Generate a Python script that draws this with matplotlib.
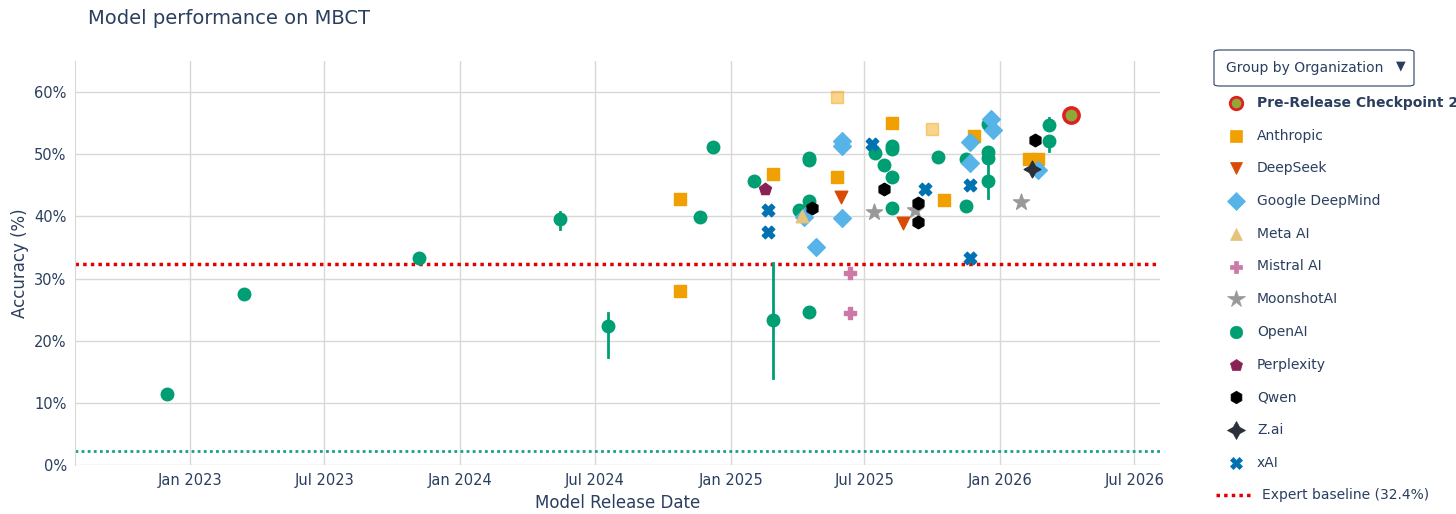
import numpy as np
import pandas as pd
import matplotlib
matplotlib.use("Agg")
from matplotlib import pyplot as plt
import matplotlib.dates as mdates

plt.rcParams['font.family'] = ['DejaVu Sans']

# (org, date, accuracy %, err_low, err_high)
openai_dates = ['2022-12-01', '2023-03-14', '2023-11-07', '2024-05-15', '2024-07-19', '2024-11-21',
                '2024-12-08', '2025-02-02', '2025-02-28', '2025-04-04', '2025-04-17', '2025-04-17',
                '2025-04-17', '2025-04-17', '2025-07-15', '2025-07-27', '2025-08-08', '2025-08-08',
                '2025-08-08', '2025-08-08', '2025-10-09', '2025-11-16', '2025-11-16', '2025-12-15',
                '2025-12-15', '2025-12-15', '2025-12-15', '2026-03-08', '2026-03-08']
openai_acc = [11.5, 27.5, 33.3, 39.5, 22.3, 39.9, 51.1, 45.7, 23.3, 41.0, 49.0, 49.4, 42.4, 24.6,
              50.2, 48.2, 46.3, 51.4, 50.8, 41.3, 49.5, 49.2, 41.6, 50.3, 49.4, 45.7, 54.8, 54.7, 52.1]
openai_lo = [0, 0, 0, 1.5, 5.0, 0, 0, 0, 9.3, 0, 0, 0, 0, 0.6, 0, 0, 0, 0, 0, 0, 0, 0, 0.6, 0, 0, 2.7, 0, 0, 1.5]
openai_hi = [0, 0, 0, 1.2, 2.2, 0, 0, 0, 9.2, 0, 1.2, 0, 0, 0.6, 1.8, 0, 0, 0, 0, 0, 0, 0, 0, 0, 0, 3.5, 0, 1.2, 0]

anth_dates = ['2024-10-25', '2024-10-25', '2025-02-27', '2025-05-25', '2025-05-25', '2025-08-07',
              '2025-10-01', '2025-10-17', '2025-11-27', '2026-02-09', '2026-02-21']
anth_acc = [42.8, 28.0, 46.8, 59.2, 46.3, 55.0, 54.0, 42.6, 52.9, 49.2, 49.2]
anth_light = [False, False, False, True, False, False, True, False, False, False, False]

deepseek_dates = ['2025-05-30', '2025-08-22']
deepseek_acc = [43.1, 38.9]
gdm_dates = ['2025-04-10', '2025-04-27', '2025-06-01', '2025-06-01', '2025-06-01', '2025-11-21',
             '2025-11-21', '2025-12-19', '2025-12-22', '2026-02-21']
gdm_acc = [39.9, 35.0, 52.1, 51.3, 39.7, 51.9, 48.6, 55.6, 53.9, 47.4]
meta_dates = ['2025-04-07']
meta_acc = [40.0]
mistral_dates = ['2025-06-12', '2025-06-12']
mistral_acc = [30.9, 24.4]
moonshot_dates = ['2025-07-14', '2025-09-07', '2026-01-29']
moonshot_acc = [40.7, 41.0, 42.3]
perplexity_dates = ['2025-02-16']
perplexity_acc = [44.4]
qwen_dates = ['2025-04-21', '2025-07-27', '2025-09-12', '2025-09-12', '2026-02-17']
qwen_acc = [41.3, 44.4, 42.1, 39.1, 52.3]
zai_dates = ['2026-02-13']
zai_acc = [47.7]
xai_dates = ['2025-02-20', '2025-02-20', '2025-07-12', '2025-09-21', '2025-11-21', '2025-11-21']
xai_acc = [41.0, 37.5, 51.6, 44.4, 45.0, 33.3]
prerelease_date = ['2026-04-06']
prerelease_acc = [56.3]

expert_baseline = 32.4
lower_baseline = 2.3

fig = plt.figure(figsize=(14.56, 5.14), dpi=100)
ax = fig.add_axes([75 / 1456, 49 / 514, 1085 / 1456, 404 / 514])
d = lambda s: pd.to_datetime(s)

# error bars
for x, y, lo, hi in zip(openai_dates, openai_acc, openai_lo, openai_hi):
    if lo or hi:
        ax.plot([d(x), d(x)], [y - lo, y + hi], color='#009e73', lw=2, zorder=2)

ms = 9
ax.scatter(d(openai_dates), openai_acc, s=ms**2, color='#009e73', marker='o', zorder=3)
for x, y, light in zip(anth_dates, anth_acc, anth_light):
    ax.scatter(d([x]), [y], s=ms**2, color='#f0a000', marker='s', alpha=0.45 if light else 1, zorder=3)
ax.scatter(d(deepseek_dates), deepseek_acc, s=ms**2, color='#d84a05', marker='v', zorder=3)
ax.scatter(d(gdm_dates), gdm_acc, s=ms**2, color='#56b4e9', marker='D', zorder=3)
ax.scatter(d(meta_dates), meta_acc, s=ms**2, color='#e5c37a', marker='^', zorder=3)
ax.scatter(d(mistral_dates), mistral_acc, s=ms**2, color='#cc79a7', marker='P', zorder=3)
ax.scatter(d(moonshot_dates), moonshot_acc, s=(ms + 3)**2, color='#999999', marker='*', zorder=3)
ax.scatter(d(perplexity_dates), perplexity_acc, s=ms**2, color='#882255', marker='p', zorder=3)
ax.scatter(d(qwen_dates), qwen_acc, s=ms**2, color='#000000', marker='h', zorder=3)
ax.scatter(d(zai_dates), zai_acc, s=(ms + 3)**2, color='#2a2f3a', marker=(4, 1, 0), zorder=3)
ax.scatter(d(xai_dates), xai_acc, s=ms**2, color='#0072b2', marker='X', zorder=3)
ax.scatter(d(prerelease_date), prerelease_acc, s=11**2, color='#8fa83a', edgecolor='#e02020',
           linewidth=2.5, marker='o', zorder=4)

ax.axhline(expert_baseline, color='#e00000', ls=(0, (1, 1.2)), lw=2.5, zorder=1)
ax.axhline(lower_baseline, color='#14a08a', ls=(0, (1, 1.2)), lw=2, zorder=1)

ax.set_xlim(d('2022-07-29'), d('2026-08-05'))
ax.set_ylim(0, 65)
ax.set_yticks(range(0, 61, 10))
ax.set_yticklabels([f'{v}%' for v in range(0, 61, 10)])
ticks = ['2023-01-01', '2023-07-01', '2024-01-01', '2024-07-01', '2025-01-01', '2025-07-01',
         '2026-01-01', '2026-07-01']
ax.set_xticks(d(ticks))
ax.xaxis.set_major_formatter(mdates.DateFormatter('%b %Y'))
ax.grid(True, color='#d8d8d8', lw=1)
ax.set_axisbelow(True)
for s in ['top', 'right', 'bottom']:
    ax.spines[s].set_visible(False)
ax.spines['left'].set_color('#d8d8d8')
ax.tick_params(length=0, labelsize=10.5, colors='#2a3f5f', pad=6)
ax.set_xlabel('Model Release Date', fontsize=12, color='#2a3f5f', labelpad=4)
ax.set_ylabel('Accuracy (%)', fontsize=12, color='#2a3f5f')
fig.text(88 / 1456, 1 - 18 / 514, 'Model performance on MBCT', fontsize=14, color='#2a3f5f', va='center')

# dropdown box
fig.patches.append(matplotlib.patches.FancyBboxPatch((1214 / 1456, 1 - 86 / 514), 200 / 1456, 36 / 514,
                   boxstyle='round,pad=0,rounding_size=0.004', transform=fig.transFigure,
                   facecolor='white', edgecolor='#2a3f5f', lw=0.8))
fig.text(1226 / 1456, 1 - 68 / 514, 'Group by Organization', fontsize=10, color='#2a3f5f', va='center')
fig.text(1401 / 1456, 1 - 66 / 514, '▼', fontsize=9, color='#2a3f5f', va='center', ha='center')

# legend
legend_items = [
    ('Pre-Release Checkpoint 2', 'o', '#8fa83a', '#e02020'),
    ('Anthropic', 's', '#f0a000', None),
    ('DeepSeek', 'v', '#d84a05', None),
    ('Google DeepMind', 'D', '#56b4e9', None),
    ('Meta AI', '^', '#e5c37a', None),
    ('Mistral AI', 'P', '#cc79a7', None),
    ('MoonshotAI', '*', '#999999', None),
    ('OpenAI', 'o', '#009e73', None),
    ('Perplexity', 'p', '#882255', None),
    ('Qwen', 'h', '#000000', None),
    ('Z.ai', (4, 1, 0), '#2a2f3a', None),
    ('xAI', 'X', '#0072b2', None),
]
y0 = 1 - 103 / 514
step = 32.7 / 514
for i, (name, mk, col, ec) in enumerate(legend_items):
    y = y0 - i * step
    size = 13 if mk in ('*', (4, 1, 0)) else 9
    fig.lines.append(plt.Line2D([1236 / 1456], [y], marker=mk, color=col, markersize=size, ls='none',
                                markeredgecolor=ec if ec else col, markeredgewidth=2 if ec else 0.5,
                                transform=fig.transFigure))
    fig.text(1257 / 1456, y, name, fontsize=10, color='#2a3f5f', va='center',
             fontweight='bold' if i == 0 else 'normal')
y = y0 - 12 * step
fig.lines.append(plt.Line2D([1216 / 1456, 1254 / 1456], [y, y], color='#e00000', lw=2.5, ls=(0, (1, 1.2)),
                            transform=fig.transFigure))
fig.text(1262 / 1456, y, 'Expert baseline (32.4%)', fontsize=10, color='#2a3f5f', va='center')

fig.savefig('out.png', dpi=100)
